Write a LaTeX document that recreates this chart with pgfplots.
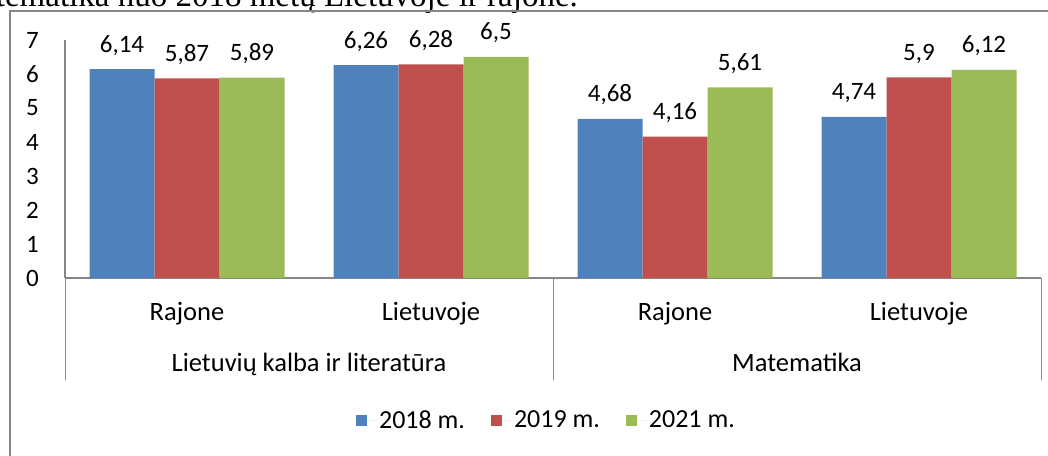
\documentclass[border=0pt]{standalone}
\usepackage{pgfplots}
\pgfplotsset{compat=1.18}
\usepackage{fontspec}
\setmainfont{Carlito}
\newfontfamily\seriffont{Liberation Serif}
\definecolor{sBlue}{HTML}{4F81BD}
\definecolor{sRed}{HTML}{C0504D}
\definecolor{sGreen}{HTML}{9BBB59}
\definecolor{axgray}{HTML}{868686}
\begin{document}
\begin{tikzpicture}[x=1pt,y=1pt]
\useasboundingbox (0,0) rectangle (1048,455);
\node[anchor=base east, inner sep=0pt, font=\seriffont\fontsize{33}{37}\selectfont] at (578,448) {Matematika nuo 2018 metų Lietuvoje ir rajone.};
\draw[axgray, line width=1.5pt] (10,-2) -- (10,444) -- (1050,444);
\begin{axis}[
  at={(65pt,177pt)}, anchor=south west,
  width=976pt, height=238pt, scale only axis,
  xmin=-0.5, xmax=3.5, ymin=0, ymax=7,
  axis x line*=bottom, axis y line*=left,
  axis line style={axgray, line width=1.5pt, -},
  ytick={0,1,2,3,4,5,6,7},
  xtick=\empty,
  major tick length=0pt,
  yticklabel style={anchor=east, inner sep=0pt, xshift=-26pt},
  font=\fontsize{25}{29}\selectfont,
  /pgf/number format/assume math mode=true,
  /pgf/number format/use comma,
  ybar=0pt, bar width=65pt,
  nodes near coords,
  every node near coord/.append style={anchor=base, yshift=17pt, inner sep=0pt, font=\fontsize{25}{29}\selectfont},
  clip=false,
  legend columns=-1,
  legend style={at={(0.4933,-0.597)}, anchor=center, draw=none, fill=none,
    font=\fontsize{26}{30}\selectfont,
    /tikz/every even column/.append style={column sep=24pt}},
  legend image code/.code={\path[#1,/tikz/.cd,draw=none] (0pt,-5.5pt) rectangle (11pt,5.5pt); \path (0pt,0pt) -- (21pt,0pt);},
]
\addplot[fill=sBlue, draw=none] coordinates {(0,6.14) (1,6.26) (2,4.68) (3,4.74)};
\addplot[fill=sRed, draw=none] coordinates {(0,5.87) (1,6.28) (2,4.16) (3,5.9)};
\addplot[fill=sGreen, draw=none] coordinates {(0,5.89) (1,6.5) (2,5.61) (3,6.12)};
\legend{2018 m.,2019 m.,2021 m.}
\node[anchor=base, yshift=-42pt, font=\fontsize{26.5}{30}\selectfont] at (axis cs:0,0) {Rajone};
\node[anchor=base, yshift=-42pt, font=\fontsize{26.5}{30}\selectfont] at (axis cs:1,0) {Lietuvoje};
\node[anchor=base, yshift=-42pt, font=\fontsize{26.5}{30}\selectfont] at (axis cs:2,0) {Rajone};
\node[anchor=base, yshift=-42pt, font=\fontsize{26.5}{30}\selectfont] at (axis cs:3,0) {Lietuvoje};
\node[anchor=base, yshift=-93pt, font=\fontsize{26.5}{30}\selectfont] at (axis cs:0.5,0) {Lietuvių kalba ir literatūra};
\node[anchor=base, yshift=-93pt, font=\fontsize{26.5}{30}\selectfont] at (axis cs:2.5,0) {Matematika};
\draw[axgray, line width=1pt] (axis cs:-0.5,0) -- ([yshift=-102pt]axis cs:-0.5,0);
\draw[axgray, line width=1pt] (axis cs:1.5,0) -- ([yshift=-102pt]axis cs:1.5,0);
\draw[axgray, line width=1pt] (axis cs:3.5,0) -- ([yshift=-102pt]axis cs:3.5,0);
\end{axis}
\end{tikzpicture}
\end{document}
